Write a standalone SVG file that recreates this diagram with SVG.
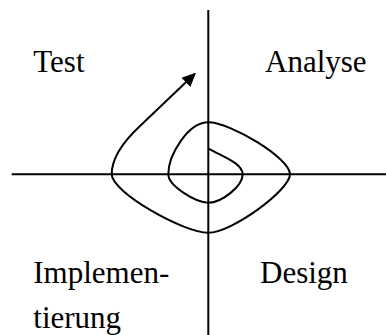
<svg xmlns="http://www.w3.org/2000/svg" width="386" height="335" viewBox="0 0 386 335">
<style>
  .ln{stroke:#000;stroke-width:2;fill:none}
  .lbl{font-family:"Liberation Serif","Times New Roman",serif;font-size:31px;fill:#000}
</style>
<defs>
  <marker id="ah" markerUnits="userSpaceOnUse" markerWidth="16" markerHeight="14" refX="12" refY="6.5" orient="auto">
    <path d="M0,0 L14,6.5 L0,13 z" fill="#000"/>
  </marker>
</defs>
<rect width="386" height="335" fill="#fff"/>
<g id="connectors">
  <line class="ln" x1="208.3" y1="10" x2="208.3" y2="335"/>
  <line class="ln" x1="11.7" y1="174.3" x2="386" y2="174.3"/>
  <path class="ln" marker-end="url(#ah)" d="M208.3,148.3 C222,156.5 242.7,163 242.7,174.3 C242.7,186 222,202.7 208.3,202.7 C196,202.7 168.3,186 168.3,174.3 C168.3,155 188,122.3 208.3,122.3 C230,122.3 290,158 290,174.3 C290,190 232,232.7 208.3,232.7 C183,232.7 111.7,192 111.7,174.3 C111.7,158 125,140 140,126 L194.55,74.08"/>
</g>
<g id="test"><text class="lbl" x="33.3" y="71.7">Test</text></g>
<g id="analyse"><text class="lbl" x="265" y="71.7">Analyse</text></g>
<g id="implementierung"><text class="lbl" x="33.3" y="283.3">Implemen-</text><text class="lbl" x="33.3" y="327.5">tierung</text></g>
<g id="design"><text class="lbl" x="260" y="283.3">Design</text></g>
</svg>
